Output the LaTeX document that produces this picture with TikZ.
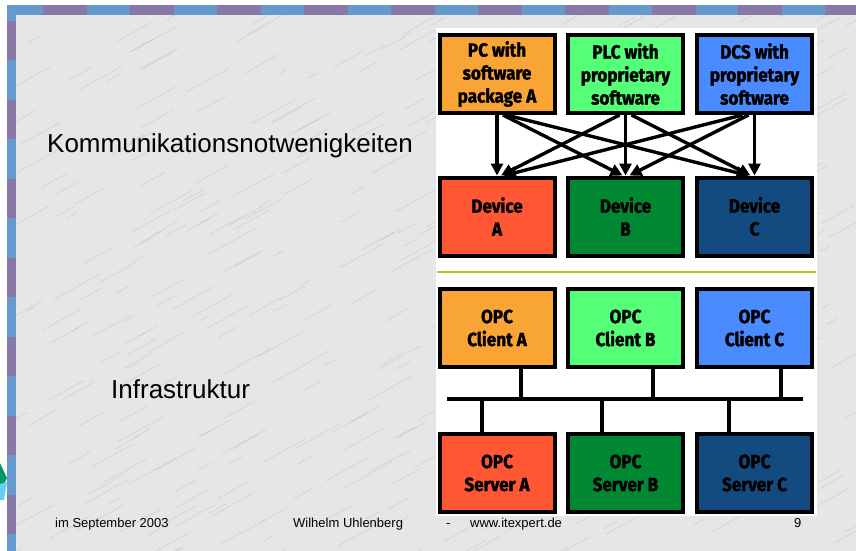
\documentclass[tikz,border=0pt]{standalone}
\usepackage{fontspec}
\setmainfont{Liberation Sans}
\newfontfamily\boxfont{Fira Sans}[FakeStretch=0.9,FakeBold=1.6]
\usetikzlibrary{arrows.meta}
\definecolor{stripblue}{HTML}{6699CC}
\definecolor{strippurple}{HTML}{8878A8}
\definecolor{marble}{HTML}{E4E6E8}
\definecolor{cOrange}{HTML}{F9A535}
\definecolor{cLGreen}{HTML}{55FF77}
\definecolor{cBlue}{HTML}{4A8BFF}
\definecolor{cRed}{HTML}{FF5733}
\definecolor{cDGreen}{HTML}{008833}
\definecolor{cNavy}{HTML}{134A80}
\definecolor{sepgreen}{HTML}{A8C820}
\begin{document}
\begin{tikzpicture}[x=1pt,y=-1pt,
  box/.style={draw=black, line width=4pt, minimum width=115pt, minimum height=78pt,
    inner sep=0pt, align=center, font=\boxfont\bfseries\fontsize{19}{23}\selectfont},
  arr/.style={line width=3.4pt, -{Triangle[length=12pt,width=12pt]}},
  bus/.style={line width=3.4pt},
  bigtxt/.style={anchor=base west, inner sep=0pt, font=\fontsize{26}{30}\selectfont},
  foot/.style={anchor=base west, inner sep=0pt, font=\fontsize{13}{15}\selectfont}]
\useasboundingbox (0,0) rectangle (856,551);
% background
\fill[white] (0,0) rectangle (856,551);
\fill[marble] (16,15) rectangle (856,551);
\pgfmathsetseed{7}
\begin{scope}
\clip (16,15) rectangle (856,551);
\foreach \i in {1,...,420}{
  \pgfmathsetmacro\px{10+rnd*860}
  \pgfmathsetmacro\py{16+rnd*560}
  \pgfmathsetmacro\ln{8+rnd*40}
  \draw[gray!75, opacity=0.2, line width=1pt] (\px,\py) -- ++(\ln,-0.55*\ln);
}
\end{scope}
% border strips
\fill[stripblue] (7,5) rectangle (856,15);
\fill[stripblue] (7,5) rectangle (16,551);
\foreach \x in {43,130,217,304,391,478,565,652,738,825}
  \fill[strippurple] (\x,5) rectangle ({\x+44},15);
\foreach \y in {21,100,179,258,337,416,495}
  \fill[strippurple] (7,\y) rectangle (16,{\y+39});
% small left graphic
\fill[teal!80!green] (0,463) -- (7,478) -- (0,492) -- cycle;
\fill[cyan!60] (0,484) -- (7,482) -- (4,500) -- (0,500) -- cycle;
% white panel
\fill[white] (436,28) rectangle (817,516);
% top row
\node[box, fill=cOrange] (pc)  at (497,74) {PC with\\software\\package A};
\node[box, fill=cLGreen] (plc) at (625.5,74) {PLC with\\proprietary\\software};
\node[box, fill=cBlue]   (dcs) at (754.5,74) {DCS with\\proprietary\\software};
% devices
\node[box, fill=cRed]    (devA) at (497,216.5) {Device\\A};
\node[box, fill=cDGreen] (devB) at (625.5,216.5) {Device\\B};
\node[box, fill=cNavy]   (devC) at (754.5,216.5) {Device\\C};
% arrows
\draw[arr] (pc.south) -- (devA.north);
\draw[arr] ([xshift=6pt]pc.south) -- ([xshift=-3pt]devB.north);
\draw[arr] ([xshift=9pt]pc.south) -- ([xshift=-6pt]devC.north);
\draw[arr] ([xshift=-6pt]plc.south) -- ([xshift=4pt]devA.north);
\draw[arr] (plc.south) -- (devB.north);
\draw[arr] ([xshift=6pt]plc.south) -- ([xshift=-4pt]devC.north);
\draw[arr] ([xshift=-12pt]dcs.south) -- ([xshift=7pt]devA.north);
\draw[arr] ([xshift=-6pt]dcs.south) -- ([xshift=4pt]devB.north);
\draw[arr] (dcs.south) -- (devC.north);
% separator
\coordinate (sepL) at (437,272);
\coordinate (sepR) at (816,272);
\draw[sepgreen, line width=2.5pt] (sepL) -- (sepR);
% clients
\node[box, fill=cOrange] (cA) at (497,328) {OPC\\Client A};
\node[box, fill=cLGreen] (cB) at (625.5,328) {OPC\\Client B};
\node[box, fill=cBlue]   (cC) at (754.5,328) {OPC\\Client C};
% servers
\node[box, fill=cRed]    (sA) at (497,473) {OPC\\Server A};
\node[box, fill=cDGreen] (sB) at (625.5,473) {OPC\\Server B};
\node[box, fill=cNavy]   (sC) at (754.5,473) {OPC\\Server C};
% bus
\coordinate (busL) at (447,399);
\coordinate (busR) at (803,399);
\draw[bus] (busL) -- (busR);
\draw[bus] ([xshift=24pt]cA.south) -- ([xshift=24pt]cA.south |- busL);
\draw[bus] ([xshift=27.5pt]cB.south) -- ([xshift=27.5pt]cB.south |- busL);
\draw[bus] ([xshift=26.5pt]cC.south) -- ([xshift=26.5pt]cC.south |- busL);
\draw[bus] ([xshift=-15pt]sA.north) -- ([xshift=-15pt]sA.north |- busL);
\draw[bus] ([xshift=-23.5pt]sB.north) -- ([xshift=-23.5pt]sB.north |- busL);
\draw[bus] ([xshift=-25.5pt]sC.north) -- ([xshift=-25.5pt]sC.north |- busL);
% left texts
\node[bigtxt] (t1) at (47,152) {Kommunikationsnotwenigkeiten};
\node[bigtxt] (t2) at (111,398) {Infrastruktur};
% footer
\node[foot] (f1) at (55,527) {im September 2003};
\node[foot] (f2) at (293,527) {Wilhelm Uhlenberg};
\node[foot] (f3) at (446,527) {-};
\node[foot] (f4) at (470,527) {www.itexpert.de};
\node[foot] (f5) at (794,527) {9};
\end{tikzpicture}
\end{document}
